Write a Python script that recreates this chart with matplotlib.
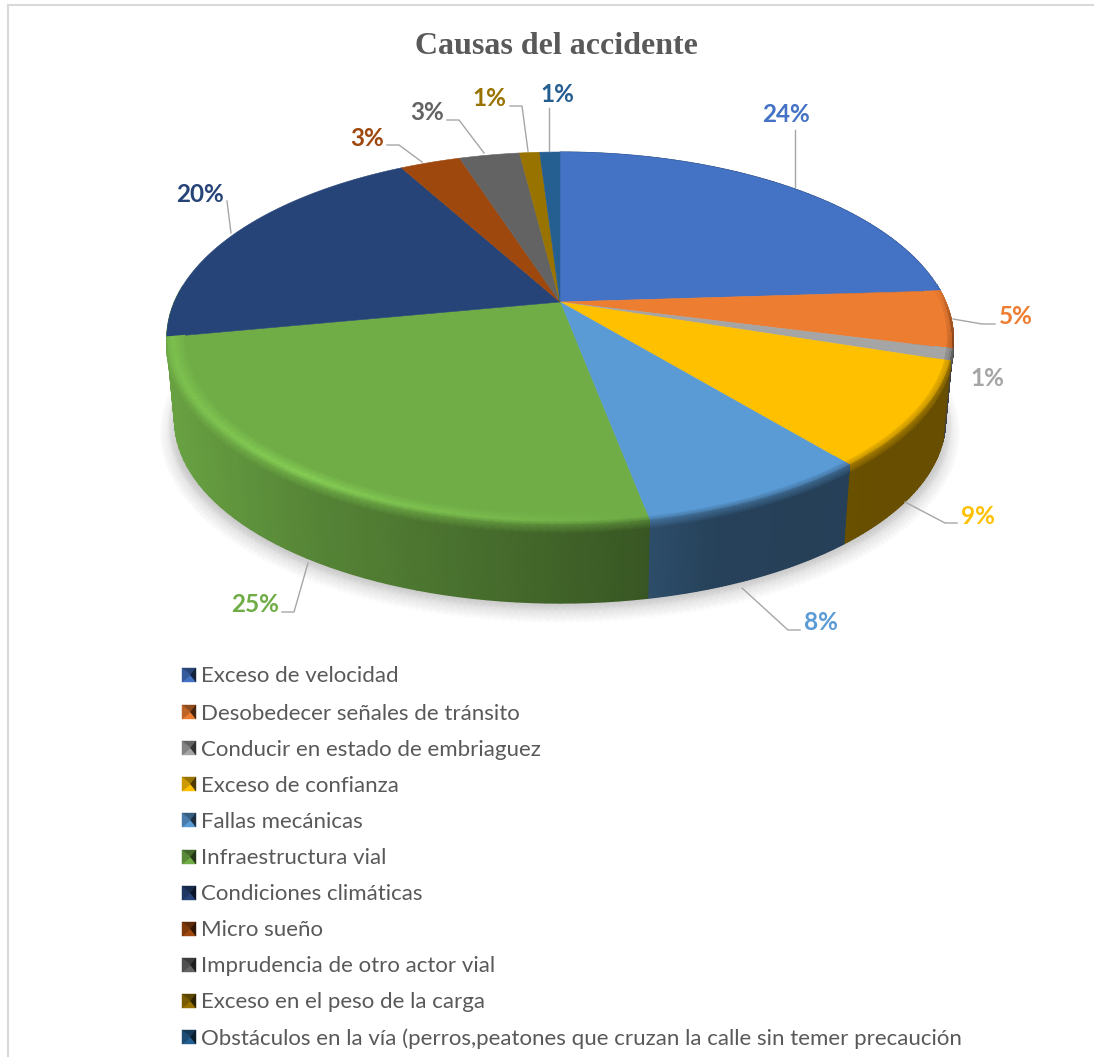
import matplotlib
matplotlib.use('Agg')
import matplotlib.pyplot as plt
import numpy as np

title = 'Causas del accidente'
causes = ['Exceso de velocidad', 'Desobedecer señales de tránsito', 'Conducir en estado de embriaguez',
          'Exceso de confianza', 'Fallas mecánicas', 'Infraestructura vial', 'Condiciones climáticas',
          'Micro sueño', 'Imprudencia de otro actor vial', 'Exceso en el peso de la carga',
          'Obstáculos en la vía (perros,peatones que cruzan la calle sin temer precaución']
percent = [24, 5, 1, 9, 8, 25, 20, 3, 3, 1, 1]
colors = ['#4472c4', '#ed7d31', '#a5a5a5', '#ffc000', '#5b9bd5', '#70ad47',
          '#264478', '#9e480e', '#636363', '#997300', '#255e91']

# label centre and leader line of each slice, in pixels
label_xy = [(786, 115), (1016, 317), (987, 378), (978, 516), (821, 623), (255, 605),
            (200, 194), (367, 138), (427, 113), (489, 98), (557, 94)]
leaders = [[(795, 130), (795, 187)],
           [(995, 324), (982, 324), (953, 319)],
           None,
           [(957, 523), (945, 523), (905, 502)],
           [(800, 630), (788, 630), (742, 588)],
           [(282, 612), (294, 612), (308, 563)],
           [(227, 201), (231, 233)],
           [(387, 145), (399, 145), (422, 162)],
           [(447, 120), (459, 120), (484, 153)],
           [(510, 106), (522, 106), (528, 151)],
           [(549, 108), (549, 151)]]

legend_y = [675, 712, 748, 784, 820, 857, 893, 929, 965, 1001, 1037]

# perspective of the pie disc
CX, CY = 560, 302
A, B, K = 385.7, 179.4, 0.196
DEPTH, BOTTOM_SCALE = 82.5, 0.98
GREEN = 5


def project(theta, r=1.0, drop=0.0, scale=1.0):
    # theta runs clockwise from the top, r is the radius on the unit disc
    sx = r * np.sin(theta)
    sy = r * np.cos(theta)
    d = 1 + K * sy
    return CX + scale * A * sx / d, CY + drop - scale * B * sy / d


def rgb(c):
    return np.array(matplotlib.colors.to_rgb(c))


def wall_shade(x):
    return np.interp(x, [170, 310, 630, 720, 1000], [0.93, 0.77, 0.52, 0.42, 0.40])


def mesh(ax, xs, ys, cols, zorder):
    # xs, ys are (levels, n), cols is (levels, n, 3)
    ax.pcolormesh(xs, ys, np.clip(cols, 0, 1), shading='gouraud', zorder=zorder)


fig = plt.figure(figsize=(10.94, 10.57), dpi=100)
ax = fig.add_axes([0, 0, 1, 1])
ax.set_xlim(0, 1094)
ax.set_ylim(1057, 0)
ax.axis('off')

# page frame, top and left only
ax.plot([8, 8, 1094], [1057, 5, 5], color='#d9d9d9', lw=1.5, solid_joinstyle='miter', zorder=1)

edges = np.cumsum([0] + percent) / 100 * 2 * np.pi

# soft shadow under the disc
th = np.linspace(np.radians(75), np.radians(285), 240)
strength = np.clip(np.minimum(th - np.radians(75), np.radians(285) - th) / np.radians(40), 0, 1)
sx = []
sy = []
sc = []
for t, shade in [(0.0, 0.26), (0.45, 0.12), (1.0, 0.0)]:
    x, y = project(th, r=1.0 + 0.035 * t, drop=DEPTH + 13 * t - 3, scale=BOTTOM_SCALE)
    sx.append(x)
    sy.append(y)
    sc.append(1 - shade * strength[:, None] * np.ones((240, 3)))
mesh(ax, np.array(sx), np.array(sy), np.array(sc), 2)

# side wall, darker towards the right; the green wall wraps round the left silhouette
for i, col in enumerate(colors):
    if edges[i] >= edges[GREEN + 1]:
        continue
    end = edges[i + 1] + (np.radians(16) if i == GREEN else 0)
    th = np.linspace(edges[i], end, 60)
    x0, y0 = project(th)
    x1, y1 = project(th, drop=DEPTH, scale=BOTTOM_SCALE)
    c = rgb(col) * wall_shade(x0)[:, None]
    mesh(ax, np.array([x0, x1]), np.array([y0, y1]), np.array([c, c]), 3)

# flat top faces
for i, col in enumerate(colors):
    th = np.linspace(edges[i], edges[i + 1], 120)
    x, y = project(th)
    ax.fill(np.r_[CX, x], np.r_[CY, y], color=col, lw=0.4, zorder=4)

# rounded rim where the face turns down into the wall, front slices only
for i, col in enumerate(colors):
    if edges[i] >= edges[GREEN + 1]:
        continue
    start = max(edges[i], np.arccos(0.1))
    if start >= edges[i + 1]:
        continue
    th = np.linspace(start, edges[i + 1], 80)
    x0, y0 = project(th)
    front = np.clip((0.1 - np.cos(th)) / 0.3, 0, 1)[:, None]
    glow = np.interp(x0, [170, 300, 450, 630], [1.12, 1.2, 1.1, 1.0])[:, None]
    side = rgb(col) * wall_shade(x0)[:, None]
    top = rgb(col) * np.ones((80, 3))
    xs, ys, cs = [], [], []
    for r, drop, target in [(0.955, 0, top), (0.985, 0, top * glow), (1.0, 0, (top * glow + side) / 2),
                            (1.0, 8, side)]:
        x, y = project(th, r=r, drop=drop * front[:, 0])
        xs.append(x)
        ys.append(y)
        cs.append(top + (target - top) * front)
    mesh(ax, np.array(xs), np.array(ys), np.array(cs), 5)

# percent labels and their leader lines
for i, col in enumerate(colors):
    ax.text(label_xy[i][0], label_xy[i][1], f'{percent[i]}%', color=col, family='Lato', weight='bold',
            fontsize=17.5, ha='center', va='center', zorder=7)
    if leaders[i] is not None:
        ax.plot(*zip(*leaders[i]), color='#a6a6a6', lw=1.0, zorder=6)

ax.text(556, 46, title, family='Liberation Serif', weight='bold', fontsize=23, color='#595959',
        ha='center', va='center', zorder=7)

# legend: small bevelled squares with the cause beside them
for name, col, y in zip(causes, colors, legend_y):
    c = rgb(col)
    x0, x1, y0, y1 = 182, 196, y - 7, y + 7
    xm, ym = (x0 + x1) / 2 + 1.5, y
    ax.fill([x0, x1, x1, x0], [y0, y0, y1, y1], color=c * 0.65, lw=0, zorder=6)
    ax.fill([x0, x1, xm], [y0, y0, ym], color=c * 0.6, lw=0.3, zorder=6)
    ax.fill([x0, x1, xm], [y1, y1, ym], color=c, lw=0.3, zorder=6)
    ax.fill([x0, xm, x0], [y0, ym, y1], color=c * 0.8, lw=0.3, zorder=6)
    ax.fill([x1, xm, x1], [y0, ym, y1], color=c * 0.3, lw=0.3, zorder=6)
    ax.text(201, y + 1.5, name, family='Lato', fontsize=16, color='#595959', ha='left', va='center', zorder=7)

fig.savefig('out.png', dpi=100)
